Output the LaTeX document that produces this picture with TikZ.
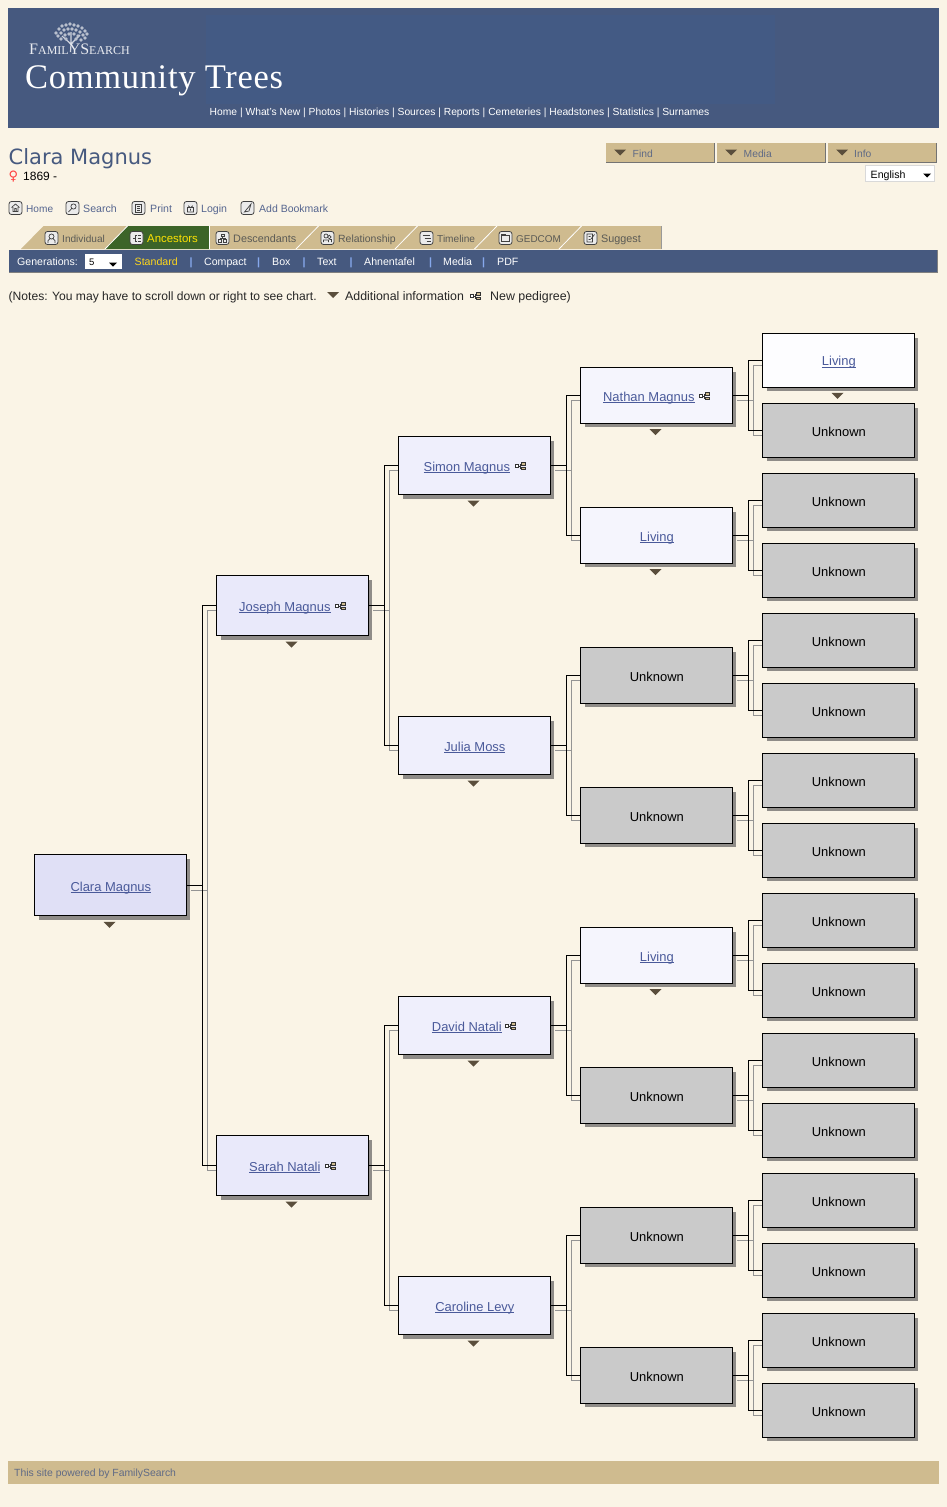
\documentclass[tikz,border=0pt]{standalone}
\usepackage{fontspec}
\setmainfont{Liberation Sans}
\newfontfamily\serifh{Liberation Serif}
\newfontfamily\serifs[LetterSpace=2]{Liberation Serif}
\newfontfamily\verd{DejaVu Sans}
\usetikzlibrary{calc,shadows}
\definecolor{pagebg}{HTML}{FAF4E6}
\definecolor{hdr}{HTML}{46597F}
\definecolor{hdrb}{HTML}{435A84}
\definecolor{tanc}{HTML}{CFBB8F}
\definecolor{linkc}{HTML}{4A5A9A}
\definecolor{menuc}{HTML}{55658F}
\definecolor{btntxt}{HTML}{5F6A85}
\definecolor{tabtxt}{HTML}{5A5A55}
\definecolor{shade}{HTML}{8F8C88}
\definecolor{trid}{HTML}{5A4E3C}
\definecolor{gA}{HTML}{E0E0F6}
\definecolor{gB}{HTML}{E9E9FA}
\definecolor{gC}{HTML}{EFEFFC}
\definecolor{gD}{HTML}{F5F5FD}
\definecolor{gE}{HTML}{FDFDFF}
\definecolor{unk}{HTML}{CACACA}
\definecolor{greent}{HTML}{3C6428}
\definecolor{barc}{HTML}{86A8EC}
\newcommand\lk[1]{\hspace*{1.2pt}\setbox0\hbox{#1}\raisebox{0.8pt}{\rlap{\rule[-2pt]{\wd0}{0.9pt}}\box0 }}
\newcommand\fs[1]{\fontsize{#1}{#1}\selectfont}
\newcommand\unkn{\hspace*{1.2pt}{\color{black}Unknown}}
\tikzset{
 x=1pt,y=-1pt,
 person/.style={draw=black,line width=0.9pt,minimum width=151.6pt,inner sep=0pt,align=center,text=linkc,font=\fs{12.95},text height=13.5pt,text depth=0.5pt,
   drop shadow={shadow xshift=4.2pt,shadow yshift=-4.2pt,opacity=1,fill=shade}},
 lbl/.style={inner sep=0pt,anchor=base west},
 hmenu/.style={lbl,text=white,font=\fs{10.3}},
 toplink/.style={lbl,text=menuc,font=\fs{10.6}},
 tabl/.style={lbl,text=tabtxt,font=\fs{10.8}},
 btnl/.style={lbl,text=btntxt,font=\fs{10.3}},
 sub/.style={lbl,text=white,font=\fs{10.6}},
 sepbar/.style={lbl,text=barc,font=\bfseries\fs{10.6}},
 note/.style={lbl,text=black!85,font=\fs{12.1}},
 blk/.style={draw=black,line width=0.9pt},
 gry/.style={draw=black!42,line width=0.9pt},
 iconframe/.style={draw=black!75,line width=0.8pt,fill=black!8,rounded corners=2.5pt},
 iconglyph/.style={draw=black!75,line width=0.7pt},
 btn/.style={fill=tanc},
 btnedge/.style={draw=black!55,line width=0.9pt},
}
\newcommand\tri[1]{\fill[trid] ($(#1.south west)+(69.5,5.5)$) -- ++(12,0) -- ++(-6,6) -- cycle;}
\newcommand\tria[2]{\fill[trid] (#1,#2) -- ++(12,0) -- ++(-6,6) -- cycle;}
\newcommand\smtri[2]{\fill[black] (#1,#2) -- ++(8,0) -- ++(-4,4) -- cycle;}
\newcommand\ped[2]{\begin{scope}[shift={(#1,#2)}]
 \draw[black!80,line width=.6pt] (2,0) -- (5,0) (6,-2.2) -- (5,-2.2) -- (5,2.2) -- (6,2.2);
 \draw[black!80,fill=white,line width=.5pt] (0,-1.3) rectangle (3,1.3);
 \draw[black!80,fill=tanc,line width=.5pt] (6,-3.3) rectangle (10.5,-1);
 \draw[black!80,fill=tanc,line width=.5pt] (6,1) rectangle (10.5,3.3);
\end{scope}}
\newcommand\ic[3]{\begin{scope}[shift={(#1,#2)}]
 \path[iconframe] (-6.5,-6.5) rectangle (6.5,6.5);
 \path[iconglyph] #3;
\end{scope}}
\newcommand\conn[3]{
 \draw[gry] ($(#1.east)+(4.5,5)$) -- ($(#1.east)+(21,5)$) |- ($(#2.west)+(0,5)$);
 \draw[gry] ($(#1.east)+(21,5)$) |- ($(#3.west)+(0,5)$);
 \draw[blk] (#1.east) -- ($(#1.east)+(15.7,0)$) |- (#2.west);
 \draw[blk] ($(#1.east)+(15.7,0)$) |- (#3.west);
}
% name, fill, left x, centre y, height, text
\newcommand\pbox[6]{
 \node[person,fill=#2,minimum height=#5pt-0.9pt,anchor=west] (#1) at (#3,#4) {#6};
}
\begin{document}
\begin{tikzpicture}
\useasboundingbox (0,0) rectangle (947,1507);
\fill[pagebg] (0,0) rectangle (947,1507);
% header
\fill[hdr] (8,8) rectangle (939,128);
\fill[hdrb] (206,15) rectangle (775,104);
% logo
\draw[white!75!hdr,line width=1.2pt] (70.5,52) -- (71,44) (71,44) -- (62,36) (71,44) -- (80,35) (71,44) -- (71,32);
\foreach \px/\py in {56/33,59/29,62/26,66/25,70/24,74/25,78/26,82/28,85/31,87/34,58/36,61/33,64/30,68/29,72/29,76/30,80/32,83/35,85/38,61/39,65/35,69/34,74/34,78/36,81/40,66/39,76/39}{
 \fill[white!62!hdr] (\px,\py) circle (1.9);
}
\node[lbl,text=white!88!hdr,font=\serifh\fs{12}] (famsearch) at (29,54) {{\fs{16}F}AMIL{\fs{16}YS}EARCH};
\node[lbl,text=white,font=\serifs\fs{34.5}] (commtrees) at (25,88) {Community Trees};
\node[hmenu] (hmenuline) at (209.5,115.5) {Home | What's New | Photos | Histories | Sources | Reports | Cemeteries | Headstones | Statistics | Surnames};
% title
\node[lbl,text=hdr,font=\verd\fs{21}] (title) at (8.5,164) {Clara Magnus};
\node[lbl,text=red!75!white,font=\verd\fs{13}] (femsign) at (8.5,180.5) {♀};
\node[lbl,text=black,font=\fs{12}] (dates) at (23,180) {1869 -};
% buttons
\foreach \bx in {606,717,828}{
 \fill[btn] (\bx,143) rectangle (\bx+109,162.5);
 \draw[btnedge] (\bx,162.3) -- (\bx+108.7,162.3) -- (\bx+108.7,143);
 \tria{\bx+8}{149.5}
}
\node[btnl] (findl) at (632.5,157) {Find};
\node[btnl] (medial) at (743.5,157) {Media};
\node[btnl] (infol) at (854,157) {Info};
% language
\fill[white] (865.5,165) rectangle (934.5,181.5);
\draw[black!15,line width=.5pt] (865.5,165) rectangle (934.5,181.5);
\node[lbl,text=black,font=\fs{10.6}] (english) at (870.5,178) {English};
\smtri{923}{173.5}
% top links
\ic{15.5}{208}{(-4,-0.5) -- (0,-4) -- (4,-0.5) (-2.5,-1) -- (-2.5,3.5) -- (2.5,3.5) -- (2.5,-1) (-0.8,3.5) -- (-0.8,0.5) -- (0.8,0.5) -- (0.8,3.5)}
\ic{72.5}{208}{(1,-1.5) circle (2.6) (-0.8,0.5) -- (-4,4)}
\ic{138.5}{208}{(-3,-4) rectangle (3,4) (-1.5,-2) -- (1.5,-2) (-1.5,0) -- (1.5,0) (-1.5,2) -- (1.5,2)}
\ic{190.5}{208}{(-3,-0.5) rectangle (3,4) (-1.8,-0.5) -- (-1.8,-2) arc (180:0:1.8) -- (1.8,-0.5) (0,1) -- (0,2.5)}
\ic{247.5}{208}{(-3,4) -- (3.5,-4) -- (1.5,3) -- cycle}
\node[toplink,font=\fs{10.1}] (lhome) at (26,212) {Home};
\node[toplink] (lsearch) at (83,212) {Search};
\node[toplink] (lprint) at (150,212) {Print};
\node[toplink] (llogin) at (201,212) {Login};
\node[toplink,font=\fs{10.5}] (lbook) at (259,212) {Add Bookmark};
% tabs
\fill[tanc] (21,249) -- (43.5,226) -- (661.5,226) -- (661.5,249) -- cycle;
\draw[black!40,line width=.8pt] (661.6,226) -- (661.6,249);
\fill[greent] (105,249) -- (127.5,226) -- (209.5,226) -- (209.5,249) -- cycle;
\foreach \sx in {105,296,395,474.5,559}{
 \draw[white,line width=.8pt] (\sx,249) -- (\sx+22.5,226);
}
\draw[white,line width=.8pt] (209.8,226) -- (209.8,249);
\ic{51.5}{238}{(0,-1.5) circle (2.5) (-3.5,5) -- (-3.5,2.5) -- (-1.5,0.8) (3.5,5) -- (3.5,2.5) -- (1.5,0.8)}
\ic{136.5}{238}{(-3.5,0) -- (-1,0) (0,-3) -- (-1,-3) -- (-1,3) -- (0,3) (1,-3) -- (4,-3) (1,0) -- (4,0) (1,3) -- (4,3)}
\ic{222.5}{238}{(-1.5,-4) rectangle (1.5,-1.5) (-4,1.5) rectangle (-1,4) (1,1.5) rectangle (4,4) (0,-1.5) -- (0,0) (-2.5,1.5) -- (-2.5,0) -- (2.5,0) -- (2.5,1.5)}
\ic{327.5}{238}{(-1.5,-2) circle (2) (1.8,-1) circle (1.8) (-4,4) -- (-4,2) -- (1,2) -- (1,4) (2,1.5) -- (4,1.5) -- (4,4)}
\ic{426.5}{238}{(-4,-3) -- (3,-3) (-2,0) -- (4,0) (0,3) -- (4,3)}
\ic{505.5}{238}{(-4,3.5) rectangle (4,-2.5) (-4,-2.5) -- (-4,-4) -- (0,-4) -- (0,-2.5)}
\ic{590.5}{238}{(-3.5,-4) rectangle (2,4) (-2,-1.5) -- (0,-1.5) (-2,1.5) -- (0,1.5) (0.5,1) -- (4,-3.5)}
\node[tabl,font=\fs{10.1}] (tindiv) at (62,242) {Individual};
\node[tabl,text=yellow!85!orange,font=\fs{11.4}] (tances) at (147,242) {Ancestors};
\node[tabl] (tdesc) at (233,242) {Descendants};
\node[tabl,font=\fs{10.45}] (trel) at (338,242) {Relationship};
\node[tabl,font=\fs{10.1}] (ttime) at (437,242) {Timeline};
\node[tabl,font=\fs{9.9}] (tged) at (516,242) {GEDCOM};
\node[tabl] (tsug) at (601,242) {Suggest};
% sub bar
\fill[hdr] (9,250) rectangle (938,273);
\draw[black!50,line width=.9pt] (9,272.6) -- (937.8,272.6) -- (937.8,250);
\node[sub] (sgen) at (17,265) {Generations:};
\fill[white] (85,253.5) rectangle (121.5,268.5);
\node[lbl,text=black,font=\fs{9.5}] (sfive) at (89,265) {5};
\smtri{109}{262.5}
\node[sub,text=yellow!70!orange!90!white] (sstd) at (134.5,265) {Standard};
\node[sepbar] (bar1) at (189.5,265) {|};
\node[sub] (scomp) at (204,265) {Compact};
\node[sepbar] (bar2) at (257,265) {|};
\node[sub] (sbox) at (272,265) {Box};
\node[sepbar] (bar3) at (302.5,265) {|};
\node[sub] (stext) at (317,265) {Text};
\node[sepbar] (bar4) at (349.5,265) {|};
\node[sub] (sahn) at (364,265) {Ahnentafel};
\node[sepbar] (bar5) at (429,265) {|};
\node[sub] (smedia) at (443,265) {Media};
\node[sepbar] (bar6) at (482,265) {|};
\node[sub] (spdf) at (497,265) {PDF};
% notes
\node[note] (notesa) at (8.5,300) {(Notes: You may have to scroll down or right to see chart.};
\tria{327}{292}
\node[note,font=\fs{12.35}] (notesb) at (345,300) {Additional information};
\ped{470}{296}
\node[note,font=\fs{12.4}] (notesc) at (490,300) {New pedigree)};
% boxes
\pbox{p1}{gA}{34}{885.3}{62}{\lk{Clara Magnus}}
\pbox{p2}{gB}{216}{605.5}{61}{\lk{Joseph Magnus}\hspace{16pt}}
\pbox{p3}{gB}{216}{1165.5}{61}{\lk{Sarah Natali}\hspace{16pt}}
\pbox{p4}{gC}{398}{465.5}{59}{\lk{Simon Magnus}\hspace{16pt}}
\pbox{p5}{gC}{398}{745.5}{59}{\lk{Julia Moss}}
\pbox{p6}{gC}{398}{1025.5}{59}{\lk{David Natali}\hspace{16pt}}
\pbox{p7}{gC}{398}{1305.5}{59}{\lk{Caroline Levy}}
\pbox{p8}{gD}{580}{395.3}{56.5}{\lk{Nathan Magnus}\hspace{16pt}}
\pbox{p9}{gD}{580}{535.3}{56.5}{\lk{Living}}
\pbox{p10}{unk}{580}{675.3}{56.5}{\unkn}
\pbox{p11}{unk}{580}{815.3}{56.5}{\unkn}
\pbox{p12}{gD}{580}{955.3}{56.5}{\lk{Living}}
\pbox{p13}{unk}{580}{1095.3}{56.5}{\unkn}
\pbox{p14}{unk}{580}{1235.3}{56.5}{\unkn}
\pbox{p15}{unk}{580}{1375.3}{56.5}{\unkn}
\pbox{q1}{gE}{762}{360.2}{54.5}{\lk{Living}}
\foreach \qn [evaluate=\qn as \qy using {360.2+70*(\qn-1)}] in {2,...,16}{
 \pbox{q\qn}{unk}{762}{\qy}{54.5}{\unkn}
}
% connectors
\conn{p1}{p2}{p3}
\conn{p2}{p4}{p5}
\conn{p3}{p6}{p7}
\conn{p4}{p8}{p9}
\conn{p5}{p10}{p11}
\conn{p6}{p12}{p13}
\conn{p7}{p14}{p15}
\conn{p8}{q1}{q2}
\conn{p9}{q3}{q4}
\conn{p10}{q5}{q6}
\conn{p11}{q7}{q8}
\conn{p12}{q9}{q10}
\conn{p13}{q11}{q12}
\conn{p14}{q13}{q14}
\conn{p15}{q15}{q16}
% triangles
\foreach \n in {p1,p2,p3,p4,p5,p6,p7,p8,p9,p12,q1}{\tri{\n}}
% pedigree icons
\ped{335}{606}
\ped{325}{1166}
\ped{515}{466}
\ped{505}{1026}
\ped{699}{396}
% footer
\fill[tanc] (8,1461) rectangle (939,1484);
\node[lbl,text=btntxt,font=\fs{10.4}] (footer) at (14,1476) {This site powered by FamilySearch};
\end{tikzpicture}
\end{document}
